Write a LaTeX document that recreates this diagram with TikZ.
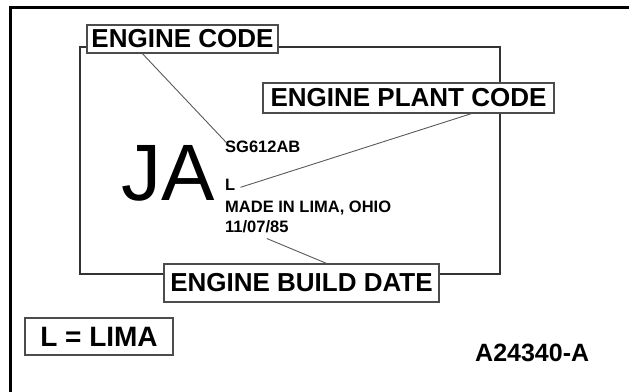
\documentclass[tikz,border=0pt]{standalone}
\usepackage{fontspec}
\setmainfont{Liberation Sans}
\usetikzlibrary{positioning}

\begin{document}
\begin{tikzpicture}[x=1pt,y=-1pt,
  tag/.style={draw=black!70,line width=1.2pt,fill=white,inner sep=0pt,
    font=\bfseries\fontsize{26}{26}\selectfont},
  small/.style={anchor=base west,inner sep=0pt,
    font=\bfseries\fontsize{16.5}{16.5}\selectfont},
  frame/.style={black!80,line width=2pt},
  leader/.style={black!65,line width=0.9pt}]

  \useasboundingbox (0,0) rectangle (629,391);

  % Cornice esterna
  \draw[line width=3pt] (10,395) -- (10,7) -- (633,7);

  % Etichette
  \node[tag,minimum width=191pt,minimum height=28pt] (code) at (182.5,39) {ENGINE CODE};
  \node[tag,minimum width=275pt,minimum height=38pt] (build) at (301.5,283) {ENGINE BUILD DATE};

  % Targhetta
  \coordinate (tl) at (80,47);
  \coordinate (br) at (500,274);
  \draw[frame] (code.west |- tl) -- (tl) |- (build.west |- br);
  \draw[frame] (build.east |- br) -| (br |- tl) -- (code.east |- tl);

  \node[tag,minimum width=291pt,minimum height=30pt] (plant) at (408.5,98) {ENGINE PLANT CODE};

  % Testi
  \node[anchor=base west,inner sep=0pt,font=\fontsize{80}{80}\selectfont] (ja) at (121,200) {JA};
  \node[small] (sg) at (225,152) {SG612AB};
  \node[small] (lcode) at (225,190) {L};
  \node[small] (made) at (225,212) {MADE IN LIMA, OHIO};
  \node[small] (date) at (225,232) {11/07/85};

  % Richiami
  \draw[leader] ([xshift=56pt]code.south west) -- ([xshift=2pt,yshift=-3pt]sg.north west);
  \draw[leader] ([xshift=63pt]plant.south) -- ([xshift=5pt,yshift=-3pt]lcode.east);
  \draw[leader] ([xshift=25pt]build.north) -- ([xshift=10pt,yshift=-6pt]date.south);

  % Legenda
  \node[tag,minimum width=148pt,minimum height=37pt,font=\bfseries\fontsize{28}{28}\selectfont] (lima) at (99,336.5) {L = LIMA};
  \node[anchor=base west,inner sep=0pt,font=\bfseries\fontsize{25}{25}\selectfont] (ref) at (475,361) {A24340-A};

\end{tikzpicture}
\end{document}
